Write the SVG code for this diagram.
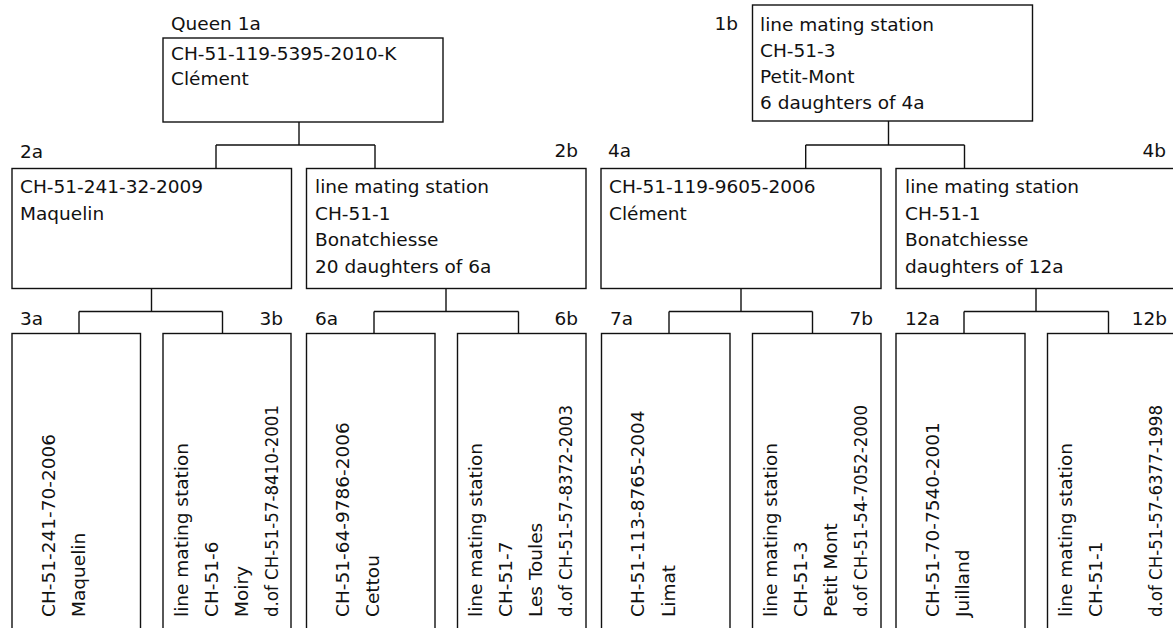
<svg xmlns="http://www.w3.org/2000/svg" width="1173" height="628" viewBox="0 0 1173 628">
<style>
.box{fill:#fff;stroke:#111;stroke-width:1.4}
.con{fill:none;stroke:#111;stroke-width:1.4}
text{font-family:"DejaVu Sans","Liberation Sans",sans-serif;font-size:18.5px;fill:#111}
.e{text-anchor:end}
</style>
<rect width="1173" height="628" fill="#fff"/>
<g id="connectors">
<path class="con" d="M299,122V145M216,145H375M216,145V168.5M375,145V168.5"/>
<path class="con" d="M888.5,121V145M805.7,145H964.5M805.7,145V168.5M964.5,145V168.5"/>
<path class="con" d="M151.5,288.5V311.5M79,311.5H222.5M79,311.5V333.5M222.5,311.5V333.5"/>
<path class="con" d="M446,288.5V311.5M374,311.5H518.5M374,311.5V333.5M518.5,311.5V333.5"/>
<path class="con" d="M741,288.5V311.5M669,311.5H812.5M669,311.5V333.5M812.5,311.5V333.5"/>
<path class="con" d="M1036,288.5V311.5M964,311.5H1108.5M964,311.5V333.5M1108.5,311.5V333.5"/>
</g>
<g id="n1a">
<text x="171" y="30">Queen 1a</text>
<rect class="box" x="163" y="38" width="280" height="84"/>
<text x="171" y="60">CH-51-119-5395-2010-K</text>
<text x="171" y="85">Clément</text>
</g>
<g id="n1b">
<text class="e" x="738" y="29.5">1b</text>
<rect class="box" x="752.5" y="5" width="280" height="116"/>
<text x="760" y="30.7">line mating station</text>
<text x="760" y="56.9">CH-51-3</text>
<text x="760" y="83.1">Petit-Mont</text>
<text x="760" y="109.3">6 daughters of 4a</text>
</g>
<g id="n2a">
<text x="20" y="158">2a</text>
<rect class="box" x="12" y="168.5" width="279.5" height="120"/>
<text x="20" y="193.3">CH-51-241-32-2009</text>
<text x="20" y="219.8">Maquelin</text>
</g>
<g id="n2b">
<text class="e" x="578" y="157">2b</text>
<rect class="box" x="306.5" y="168.5" width="279.5" height="120"/>
<text x="315" y="193.3">line mating station</text>
<text x="315" y="219.8">CH-51-1</text>
<text x="315" y="246.3">Bonatchiesse</text>
<text x="315" y="272.8">20 daughters of 6a</text>
</g>
<g id="n4a">
<text x="608" y="157">4a</text>
<rect class="box" x="601" y="168.5" width="280" height="120"/>
<text x="609" y="193.3">CH-51-119-9605-2006</text>
<text x="609" y="219.8">Clément</text>
</g>
<g id="n4b">
<text class="e" x="1166" y="157">4b</text>
<rect class="box" x="896" y="168.5" width="280" height="120"/>
<text x="905" y="193.3">line mating station</text>
<text x="905" y="219.8">CH-51-1</text>
<text x="905" y="246.3">Bonatchiesse</text>
<text x="905" y="272.8">daughters of 12a</text>
</g>
<g id="n3a">
<text x="20" y="325">3a</text>
<rect class="box" x="12" y="333.5" width="128.5" height="310"/>
<text transform="translate(55,617) rotate(-90)">CH-51-241-70-2006</text>
<text transform="translate(85,617) rotate(-90)">Maquelin</text>
</g>
<g id="n3b">
<text class="e" x="283" y="325">3b</text>
<rect class="box" x="163" y="333.5" width="128" height="310"/>
<text transform="translate(187.5,617) rotate(-90)">line mating station</text>
<text transform="translate(217.5,617) rotate(-90)">CH-51-6</text>
<text transform="translate(247.5,617) rotate(-90)">Moiry</text>
<text transform="translate(277.5,617) rotate(-90)" textLength="212" lengthAdjust="spacingAndGlyphs">d.of CH-51-57-8410-2001</text>
</g>
<g id="n6a">
<text x="315" y="325">6a</text>
<rect class="box" x="306.5" y="333.5" width="128.5" height="310"/>
<text transform="translate(349,617) rotate(-90)">CH-51-64-9786-2006</text>
<text transform="translate(379,617) rotate(-90)">Cettou</text>
</g>
<g id="n6b">
<text class="e" x="578" y="325">6b</text>
<rect class="box" x="457.5" y="333.5" width="128.5" height="310"/>
<text transform="translate(482,617) rotate(-90)">line mating station</text>
<text transform="translate(512,617) rotate(-90)">CH-51-7</text>
<text transform="translate(542,617) rotate(-90)">Les Toules</text>
<text transform="translate(572,617) rotate(-90)" textLength="212" lengthAdjust="spacingAndGlyphs">d.of CH-51-57-8372-2003</text>
</g>
<g id="n7a">
<text x="610" y="325">7a</text>
<rect class="box" x="601.5" y="333.5" width="128.5" height="310"/>
<text transform="translate(644,617) rotate(-90)">CH-51-113-8765-2004</text>
<text transform="translate(674.5,617) rotate(-90)">Limat</text>
</g>
<g id="n7b">
<text class="e" x="873" y="325">7b</text>
<rect class="box" x="752.5" y="333.5" width="128.5" height="310"/>
<text transform="translate(777,617) rotate(-90)">line mating station</text>
<text transform="translate(807,617) rotate(-90)">CH-51-3</text>
<text transform="translate(837,617) rotate(-90)">Petit Mont</text>
<text transform="translate(867,617) rotate(-90)" textLength="212" lengthAdjust="spacingAndGlyphs">d.of CH-51-54-7052-2000</text>
</g>
<g id="n12a">
<text x="905" y="325">12a</text>
<rect class="box" x="896" y="333.5" width="129" height="310"/>
<text transform="translate(939,617) rotate(-90)">CH-51-70-7540-2001</text>
<text transform="translate(969,617) rotate(-90)">Juilland</text>
</g>
<g id="n12b">
<text class="e" x="1167" y="325">12b</text>
<rect class="box" x="1047.5" y="333.5" width="130" height="310"/>
<text transform="translate(1072,617) rotate(-90)">line mating station</text>
<text transform="translate(1102,617) rotate(-90)">CH-51-1</text>
<text transform="translate(1162,617) rotate(-90)" textLength="212" lengthAdjust="spacingAndGlyphs">d.of CH-51-57-6377-1998</text>
</g>
</svg>
